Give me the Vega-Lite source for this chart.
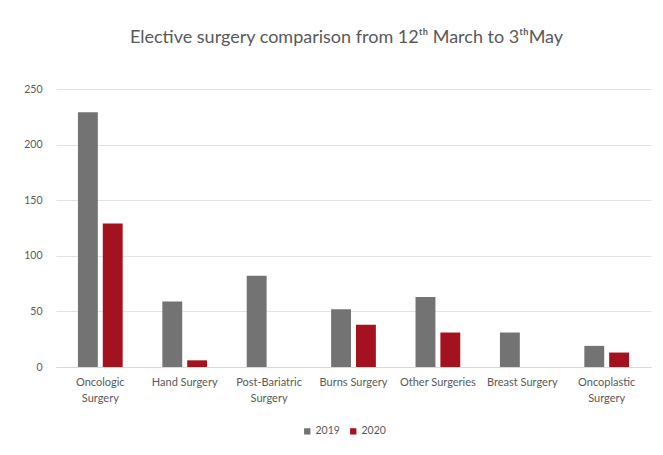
{
  "$schema": "https://vega.github.io/schema/vega-lite/v6.json",
  "autosize": "none",
  "width": 595,
  "height": 278,
  "padding": {"left": 56, "top": 89, "right": 12, "bottom": 88},
  "background": "white",
  "title": {
    "text": "Elective surgery comparison from 12ᵗʰ March to 3ᵗʰMay",
    "font": "Lato",
    "fontSize": 18,
    "fontWeight": "normal",
    "color": "#595959",
    "anchor": "middle",
    "dx": -7,
    "offset": 37
  },
  "data": {
    "values": [
      {"type": "Oncologic|Surgery", "year": "2019", "count": 229},
      {"type": "Oncologic|Surgery", "year": "2020", "count": 129},
      {"type": "Hand Surgery", "year": "2019", "count": 59},
      {"type": "Hand Surgery", "year": "2020", "count": 6},
      {"type": "Post-Bariatric|Surgery", "year": "2019", "count": 82},
      {"type": "Post-Bariatric|Surgery", "year": "2020", "count": 0},
      {"type": "Burns Surgery", "year": "2019", "count": 52},
      {"type": "Burns Surgery", "year": "2020", "count": 38},
      {"type": "Other Surgeries", "year": "2019", "count": 63},
      {"type": "Other Surgeries", "year": "2020", "count": 31},
      {"type": "Breast Surgery", "year": "2019", "count": 31},
      {"type": "Breast Surgery", "year": "2020", "count": 0},
      {"type": "Oncoplastic|Surgery", "year": "2019", "count": 19},
      {"type": "Oncoplastic|Surgery", "year": "2020", "count": 13}
    ]
  },
  "mark": {"type": "bar"},
  "encoding": {
    "x": {
      "field": "type",
      "type": "nominal",
      "sort": null,
      "scale": {"paddingInner": 0.47, "paddingOuter": 0.26},
      "axis": {
        "title": null,
        "labelAngle": 0,
        "labelExpr": "split(datum.label, '|')",
        "labelFont": "Lato",
        "labelFontSize": 11,
        "labelColor": "#595959",
        "labelPadding": 9,
        "ticks": false,
        "domainColor": "#d9d9d9",
        "labelLineHeight": 16
      }
    },
    "xOffset": {"field": "year", "type": "nominal", "scale": {"paddingInner": 0.2}},
    "y": {
      "field": "count",
      "type": "quantitative",
      "scale": {"domain": [0, 250]},
      "axis": {
        "title": null,
        "values": [0, 50, 100, 150, 200, 250],
        "labelFont": "Lato",
        "labelFontSize": 10.5,
        "labelColor": "#595959",
        "labelPadding": 14,
        "ticks": false,
        "domain": false,
        "gridColor": "#e3e3e3"
      }
    },
    "color": {
      "field": "year",
      "type": "nominal",
      "scale": {"domain": ["2019", "2020"], "range": ["#737373", "#a5121f"]},
      "legend": {
        "title": null,
        "orient": "none",
        "legendX": 246,
        "legendY": 337,
        "direction": "horizontal",
        "symbolType": "square",
        "symbolSize": 40,
        "labelFont": "Lato",
        "labelFontSize": 10.5,
        "labelColor": "#595959",
        "labelOffset": 3,
        "columnPadding": 8
      }
    }
  },
  "config": {"view": {"stroke": null}}
}
